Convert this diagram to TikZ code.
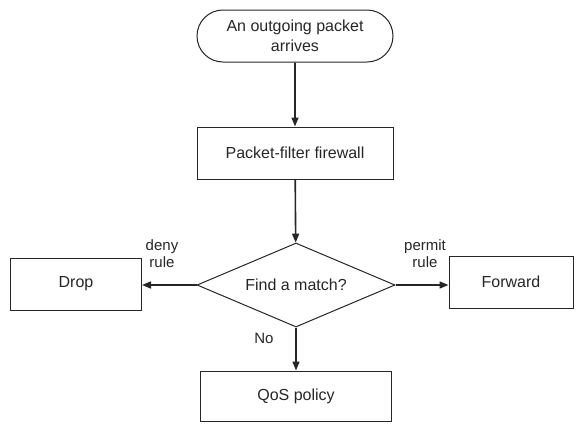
\documentclass[tikz,border=0pt]{standalone}
\usepackage{fontspec}
\setmainfont{Liberation Sans}
\usepackage{tikz}
\usetikzlibrary{arrows.meta,shapes.misc,shapes.geometric}
\definecolor{linegray}{gray}{0.15}

\begin{document}
\begin{tikzpicture}[x=1pt,y=-1pt,
    every node/.style={font=\fontsize{16}{20}\selectfont,text=linegray},
    box/.style={draw=linegray,line width=1pt,minimum width=#1,minimum height=52pt,inner sep=0pt},
    term/.style={draw=linegray,line width=1pt,rounded rectangle,minimum width=196pt,minimum height=52pt,align=center,inner sep=0pt},
    decide/.style={draw=linegray,line width=1pt,diamond,aspect=2.35,minimum width=198pt,minimum height=84pt,inner sep=0pt},
    flow/.style={draw=linegray,line width=1.6pt,-{Triangle[length=9pt,width=7pt]}},
    lbl/.style={font=\fontsize{15}{17}\selectfont,align=center}]
  \useasboundingbox (0,0) rectangle (576,424);
  \node[term] (start) at (295,36) {An outgoing packet\\arrives};
  \node[box=196pt] (filter) at (295,153) {Packet-filter firewall};
  \node[decide] (match) at (296,285) {Find a match?};
  \node[box=131pt] (drop) at (76,284) {Drop};
  \node[box=124pt] (fwd) at (511,282) {Forward};
  \node[box=191pt,minimum height=50pt] (qos) at (296,396) {QoS policy};
  \draw[flow] (start) -- (filter);
  \draw[flow] (filter) -- (match);
  \draw[flow] (match.west) -- (match.west -| drop.east);
  \draw[flow] (match.east) -- (match.east -| fwd.west);
  \draw[flow] (match) -- (qos);
  \node[lbl] (deny) at (162,254) {deny\\rule};
  \node[lbl] (permit) at (425,254) {permit\\rule};
  \node[lbl] (no) at (264,338) {No};
\end{tikzpicture}
\end{document}
